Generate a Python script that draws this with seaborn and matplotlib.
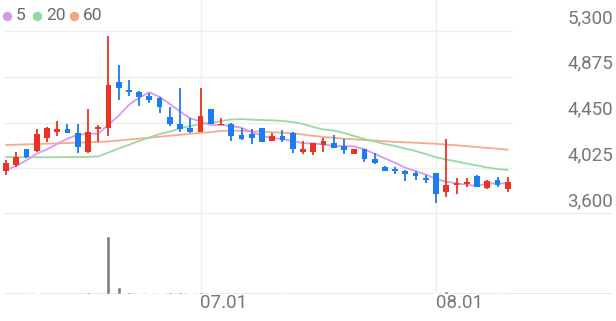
import matplotlib
matplotlib.use("Agg")
import matplotlib.pyplot as plt
import matplotlib.transforms as mtransforms
from matplotlib.lines import Line2D
import seaborn as sns
import numpy as np
import pandas as pd

# ---------------- data ----------------
opens = [3995, 4055, 4200, 4185, 4310, 4360, 4385, 4350, 4175, 4390,
         4395, 4830, 4750, 4735, 4700, 4675, 4500, 4435, 4395, 4365,
         4575, 4425, 4435, 4335, 4345, 4400, 4280, 4325, 4355, 4180,
         4180, 4245, 4260, 4230, 4155, 4200, 4110, 4040, 4015, 4000,
         3980, 3930, 3980, 3800, 3865, 3880, 3955, 3840, 3915, 3830]
highs = [4100, 4175, 4205, 4385, 4410, 4465, 4435, 4435, 4580, 4425,
         5255, 4980, 4845, 4740, 4720, 4690, 4595, 4770, 4490, 4775,
         4575, 4490, 4450, 4395, 4385, 4400, 4350, 4380, 4360, 4280,
         4260, 4305, 4335, 4295, 4205, 4205, 4165, 4045, 4040, 4005,
         3995, 3960, 3985, 4295, 3930, 3935, 3960, 3920, 3945, 3945]
lows = [3960, 4040, 4120, 4180, 4265, 4325, 4350, 4170, 4170, 4270,
        4325, 4660, 4700, 4605, 4630, 4535, 4420, 4365, 4350, 4360,
        4435, 4425, 4280, 4290, 4250, 4270, 4280, 4265, 4165, 4155,
        4150, 4180, 4210, 4155, 4155, 4080, 4065, 4000, 3970, 3910,
        3915, 3885, 3705, 3760, 3785, 3850, 3850, 3835, 3855, 3800]
closes = [4070, 4130, 4130, 4345, 4395, 4385, 4355, 4225, 4360, 4410,
          4800, 4770, 4730, 4690, 4660, 4595, 4435, 4385, 4365, 4515,
          4435, 4440, 4325, 4295, 4305, 4270, 4325, 4285, 4205, 4205,
          4255, 4280, 4215, 4195, 4200, 4115, 4070, 4000, 3995, 3970,
          3955, 3915, 3790, 3870, 3890, 3895, 3855, 3910, 3870, 3900]
volumes = [0.8, 0.8, 0.8, 1.0, 0.8, 0.8, 0.8, 0.8, 2.9, 0.8,
           100, 11.5, 2.9, 2.0, 1.1, 1.0, 2.9, 4.0, 1.1, 4.0,
           1.0, 0.8, 0.8, 0.8, 0.8, 0.8, 0.8, 0.8, 0.8, 0.8,
           0.8, 0.8, 0.8, 0.8, 0.8, 0.8, 0.8, 0.8, 0.8, 0.8,
           0.8, 0.8, 1.0, 4.6, 0.8, 0.8, 0.8, 0.8, 0.8, 0.8]
ma5 = [4010, 4045, 4100, 4160, 4200, 4250, 4300, 4335, 4345, 4347,
       4430, 4513, 4614, 4680, 4730, 4689, 4622, 4553, 4488, 4459,
       4427, 4428, 4416, 4402, 4360, 4327, 4304, 4296, 4278, 4258,
       4255, 4246, 4232, 4230, 4229, 4201, 4159, 4116, 4076, 4030,
       3998, 3967, 3925, 3900, 3884, 3872, 3860, 3884, 3884, 3886]
ma20 = [4130, 4128, 4127, 4127, 4127, 4128, 4128, 4129, 4130, 4135,
        4171, 4208, 4243, 4279, 4311, 4343, 4366, 4396, 4417, 4436,
        4445, 4464, 4478, 4482, 4476, 4473, 4470, 4464, 4455, 4436,
        4408, 4385, 4376, 4352, 4325, 4297, 4274, 4250, 4232, 4208,
        4185, 4157, 4127, 4106, 4088, 4069, 4051, 4032, 4018, 4009]
ma60 = [4241, 4244, 4247, 4250, 4253, 4256, 4259, 4262, 4266, 4270,
        4274, 4283, 4292, 4300, 4308, 4318, 4327, 4336, 4345, 4354,
        4360, 4372, 4374, 4372, 4368, 4365, 4360, 4355, 4350, 4338,
        4326, 4316, 4308, 4300, 4294, 4287, 4282, 4276, 4270, 4266,
        4262, 4257, 4252, 4245, 4238, 4230, 4222, 4214, 4206, 4198]
price_ticks = [3600, 4025, 4450, 4875, 5300]
date_labels = ["07.01", "08.01"]
date_label_idx = [19, 42]
legend_labels = ["5", "20", "60"]

# ---------------- style ----------------
RED = "#ec3321"
BLUE = "#1c7cf2"
MA_COLORS = ["#d59cf0", "#98daa6", "#f6ab8a"]
LEGEND_DOTS = ["#d69cec", "#94d9a4", "#f5a681"]
GRID = "#efefef"
TXT = "#777777"

sns.set_theme(style="white")
plt.rcParams['font.family'] = ['Roboto', 'DejaVu Sans']

W, H = 616, 321
fig = plt.figure(figsize=(W / 100, H / 100), dpi=100)
fig.patch.set_facecolor("white")

def fx(px):
    return px / W

def fy(py):
    return 1 - py / H

AX_L, AX_R = 3, 613
PX_PER_BAR = 10.24
X0 = 6
xlim = ((AX_L - X0) / PX_PER_BAR, (AX_R - X0) / PX_PER_BAR)

# price axis: 3600 at px 214, 5300 at px 31
units_per_px = (5300 - 3600) / (214 - 31)
ax1 = fig.add_axes([fx(AX_L), fy(214), (AX_R - AX_L) / W, 214 / H])
ax2 = fig.add_axes([fx(AX_L), fy(294), (AX_R - AX_L) / W, 80 / H])

idx = np.arange(len(closes))
df = pd.DataFrame({"i": idx, "open": opens, "high": highs, "low": lows,
                   "close": closes, "vol": volumes,
                   "ma5": ma5, "ma20": ma20, "ma60": ma60})

ax1.set_ylim(3600, 3600 + 214 * units_per_px)
ax2.set_ylim(0, 100 * 80 / 58)

# gridlines
grid_xmax = (512 - AX_L) / (AX_R - AX_L)
for t in price_ticks:
    if t == price_ticks[0]:
        ax1.axhline(t, xmin=0, xmax=1, color="#e8e8e8", lw=1.2, zorder=0)
    else:
        ax1.axhline(t, xmin=0, xmax=grid_xmax, color=GRID, lw=1.0, zorder=0)
ax2.axhline(0, color="#e6e6e6", lw=1.2, zorder=0)
for i in date_label_idx:
    ax1.axvline(i, color=GRID, lw=1.0, zorder=0)
    ax2.axvline(i, color=GRID, lw=1.0, zorder=0)

# moving averages
for col, c in zip(["ma60", "ma20", "ma5"], MA_COLORS[::-1]):
    sns.lineplot(data=df, x="i", y=col, ax=ax1, color=c, lw=1.3, zorder=2,
                 legend=False)

# candles
up = df["close"] >= df["open"]
cols = np.where(up, RED, BLUE)
ax1.vlines(df["i"], df["low"], df["high"], colors=cols, lw=1.3, zorder=3)
body_bottom = np.minimum(df["open"], df["close"])
body_h = np.maximum(np.abs(df["close"] - df["open"]), 12)
ax1.bar(df["i"], body_h, bottom=body_bottom, width=0.56, color=cols,
        zorder=4, linewidth=0)

# volume
sns.barplot(data=df, x="i", y="vol", ax=ax2, color="#7d7d7d", width=0.4,
            native_scale=True, saturation=1, errorbar=None, zorder=2)

for ax in (ax1, ax2):
    ax.set_xlim(*xlim)
    ax.set_axis_off()

# y labels (above gridlines, right side)
for t in price_ticks:
    ax1.text(1.0, t + 13 * units_per_px, f"{t:,}",
             transform=mtransforms.blended_transform_factory(ax1.transAxes, ax1.transData),
             ha="right", va="center", fontsize=13.5, color=TXT)

# x labels
for lab, i in zip(date_labels, date_label_idx):
    ax2.text(i - 0.05, -9 / 80, lab,
             transform=mtransforms.blended_transform_factory(ax2.transData, ax2.transAxes),
             ha="left", va="center", fontsize=13.5, color=TXT)

# legend
dot_x = [6.7, 37.3, 74]
for lab, c, x in zip(legend_labels, LEGEND_DOTS, dot_x):
    fig.add_artist(Line2D([fx(x)], [fy(15.7)], marker="o", markersize=6.8,
                          color=c, markeredgewidth=0, transform=fig.transFigure))
    fig.text(fx(x + 8.5), fy(15.7), lab, ha="left", va="center",
             fontsize=12.5, color="#6a6a6a")

fig.savefig("out.png", dpi=100, facecolor="white")
